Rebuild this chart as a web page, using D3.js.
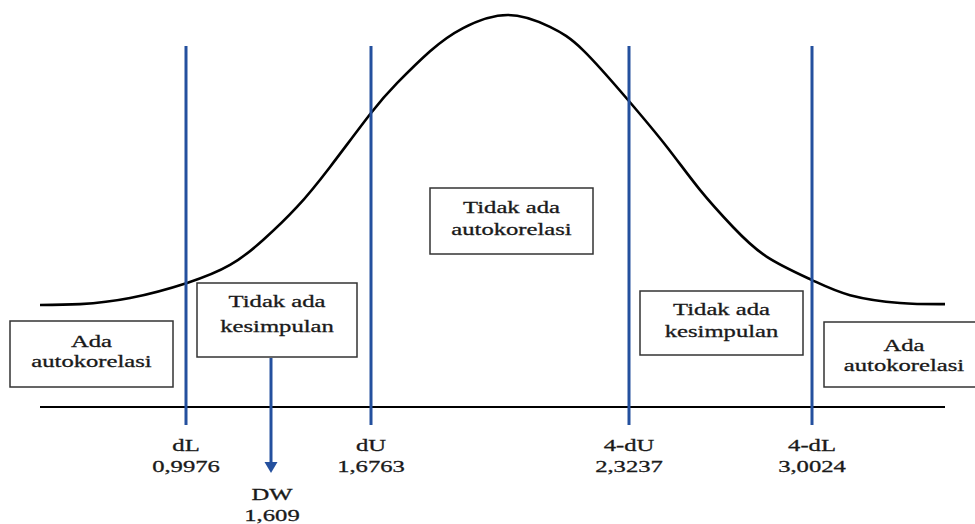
<!DOCTYPE html>
<html lang="en">
<head>
    <meta charset="UTF-8">
    <title>Uji Durbin-Watson</title>
    <script src="https://d3js.org/d3.v7.min.js"></script>
    <style>
        body { margin: 0; background: #fff; }
        text { font-family: "Liberation Serif", "Times New Roman", serif; font-size: 17px; fill: #1a1a1a; stroke: #1a1a1a; stroke-width: 0.3px; }
    </style>
</head>
<body>
    <script>

        // critical values (DW table) and the DW statistic
        var critNames = ['dL', 'dU', '4-dU', '4-dL'];
        var critValues = [0.9976, 1.6763, 2.3237, 3.0024];
        var critLabels = ['0,9976', '1,6763', '2,3237', '3,0024'];
        var dwName = 'DW';
        var dwValue = 1.609;
        var dwLabel = '1,609';

        // region captions, left to right
        var regionText = [
            ['Ada', 'autokorelasi'],
            ['Tidak ada', 'kesimpulan'],
            ['Tidak ada', 'autokorelasi'],
            ['Tidak ada', 'kesimpulan'],
            ['Ada', 'autokorelasi']
        ];

        // bell curve (x on 0..4, relative height 0..1)
        var curveX = [0, 0.177, 0.398, 0.650, 0.840, 0.986, 1.136, 1.282, 1.463, 1.578, 1.724, 1.870,
                      2.068, 2.254, 2.400, 2.599, 2.771, 2.917, 3.063, 3.213, 3.412, 3.580, 3.801, 4];
        var curveY = [0, 0.003, 0.024, 0.076, 0.138, 0.224, 0.338, 0.476, 0.662, 0.765, 0.875, 0.955,
                      1, 0.959, 0.879, 0.707, 0.545, 0.397, 0.269, 0.166, 0.086, 0.034, 0.007, 0.003];

        //set d3
        var w = 975, h = 524;
        var blue = '#24509e';
        var svg = d3.select('body')
                    .append('svg')
                    .attr('width', w)
                    .attr('height', h);

        // schematic axis: the diagram is not to scale, so a polylinear scale
        var xScale = d3.scaleLinear()
                        .domain([0, critValues[0], dwValue, critValues[1], critValues[2], critValues[3], 4])
                        .range([40, 186, 271, 371, 629, 812, 945]);

        var cx = d3.scaleLinear().domain([0, 4]).range([40, 945]);
        var cy = d3.scaleLinear().domain([0, 1]).range([305, 15]);

        // curve
        var line = d3.line()
                     .x(function(d, i) { return cx(curveX[i]); })
                     .y(function(d) { return cy(d); })
                     .curve(d3.curveNatural);

        svg.append('path')
            .attr('d', line(curveY))
            .attr('fill', 'none')
            .attr('stroke', '#000')
            .attr('stroke-width', 2.6);

        // horizontal axis
        svg.append('line')
            .attr('x1', xScale(0)).attr('x2', xScale(4))
            .attr('y1', 407).attr('y2', 407)
            .attr('stroke', '#000')
            .attr('stroke-width', 2);

        // critical lines
        svg.selectAll('.crit')
            .data(critValues)
            .enter()
            .append('line')
            .attr('class', 'crit')
            .attr('x1', d => xScale(d)).attr('x2', d => xScale(d))
            .attr('y1', 46).attr('y2', 425)
            .attr('stroke', blue)
            .attr('stroke-width', 3);

        function stretched(x, y, str) {
            svg.append('text')
                .attr('text-anchor', 'middle')
                .attr('transform', 'translate(' + x + ',' + y + ') scale(1.45,1)')
                .text(str);
        }

        // tick labels
        critValues.forEach(function(v, i) {
            stretched(xScale(v), 451, critNames[i]);
            stretched(xScale(v), 472, critLabels[i]);
        });

        // DW arrow
        var dx = xScale(dwValue);
        svg.append('line')
            .attr('x1', dx).attr('x2', dx)
            .attr('y1', 358).attr('y2', 464)
            .attr('stroke', blue)
            .attr('stroke-width', 3);
        svg.append('path')
            .attr('d', 'M' + (dx - 6.5) + ',462 L' + (dx + 6.5) + ',462 L' + dx + ',473 Z')
            .attr('fill', blue);
        stretched(dx + 1, 500, dwName);
        stretched(dx + 1, 521, dwLabel);

        // boxes (x0, x1, y0, y1, first baseline, line gap)
        var boxes = [
            [10, 173, 321, 387, 347, 20],
            [197, 357, 283, 357, 307, 25],
            [430, 593, 188, 254, 213, 22],
            [640, 803, 291, 355, 315, 22],
            [824, 984, 322, 387, 351, 20]
        ];

        boxes.forEach(function(b, i) {
            svg.append('rect')
                .attr('x', b[0]).attr('y', b[2])
                .attr('width', b[1] - b[0]).attr('height', b[3] - b[2])
                .attr('fill', '#fff')
                .attr('stroke', '#333')
                .attr('stroke-width', 1.5);
            var mid = (b[0] + b[1]) / 2;
            if (i == 4) mid = 904;
            regionText[i].forEach(function(t, j) {
                stretched(mid, b[4] + j * b[5], t);
            });
        });

    </script>
</body>
</html>
